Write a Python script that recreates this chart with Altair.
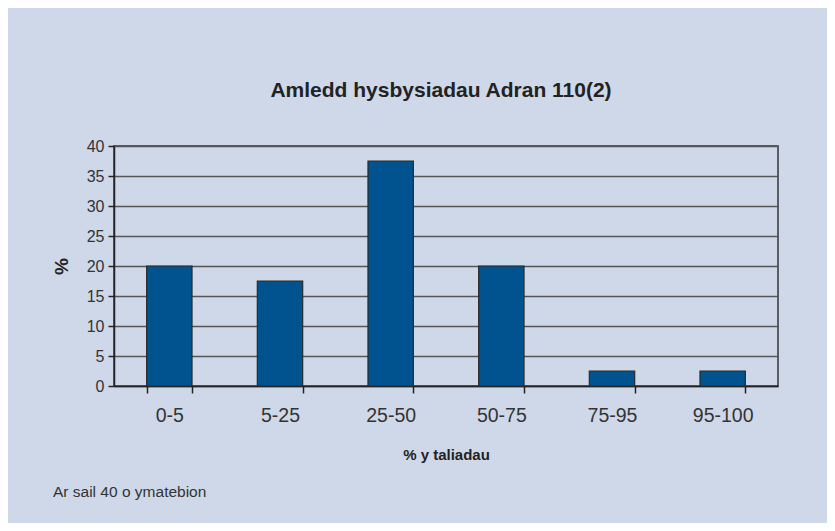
import altair as alt
import pandas as pd

categories = ["0-5", "5-25", "25-50", "50-75", "75-95", "95-100"]
values = [20, 17.5, 37.5, 20, 2.5, 2.5]
y_ticks = [0, 5, 10, 15, 20, 25, 30, 35, 40]
title_text = "Amledd hysbysiadau Adran 110(2)"
x_title = "% y taliadau"
y_title = "%"
footer = "Ar sail 40 o ymatebion"

df = pd.DataFrame({"cat": categories, "val": values})
FONT = "Liberation Sans"

bars = alt.Chart(df).mark_bar(
    color="#00538f", stroke="#2a2a2a", strokeWidth=1.2
).encode(
    x=alt.X("cat:N", sort=categories, title=x_title,
            scale=alt.Scale(paddingInner=0.59, paddingOuter=0.295),
            axis=alt.Axis(labelAngle=0, tickBand="extent", labelFontSize=19.5,
                          labelColor="#333333", labelFont=FONT, labelPadding=13,
                          tickSize=7, tickColor="#222222", domainColor="#222222",
                          domainWidth=1.5, tickWidth=1.5,
                          titleFont=FONT, titleFontSize=15, titleFontWeight="bold",
                          titleColor="#222222", titlePadding=23, grid=False)),
    y=alt.Y("val:Q", title=y_title,
            scale=alt.Scale(domain=[0, 40], nice=False),
            axis=alt.Axis(values=y_ticks, labelFontSize=16, labelColor="#333333",
                          labelFont=FONT, tickSize=6, tickColor="#222222",
                          domainColor="#222222", domainWidth=1.5, tickWidth=1.5,
                          gridColor="#555555", gridWidth=1.3, labelPadding=4,
                          titleFont=FONT, titleFontSize=19, titleFontWeight="bold",
                          titleColor="#222222", titlePadding=15)),
)

foot = alt.Chart(pd.DataFrame({"t": [footer]})).mark_text(
    align="left", baseline="middle", font=FONT, fontSize=15.5, color="#333333"
).encode(x=alt.value(-61), y=alt.value(346), text="t:N")

chart = alt.layer(bars, foot).properties(
    width=664, height=240,
    title=alt.TitleParams(title_text, font=FONT, fontSize=21, fontWeight="bold",
                          color="#222222", anchor="middle", offset=37, dx=-5),
    autosize=alt.AutoSizeParams(type="none"),
    padding={"left": 106, "top": 138, "right": 49, "bottom": 137},
    background="#cfd8e9",
).configure_view(stroke="#333333", strokeWidth=1.5)

chart.save("out.html", embed_options={"renderer": "svg", "actions": False})
